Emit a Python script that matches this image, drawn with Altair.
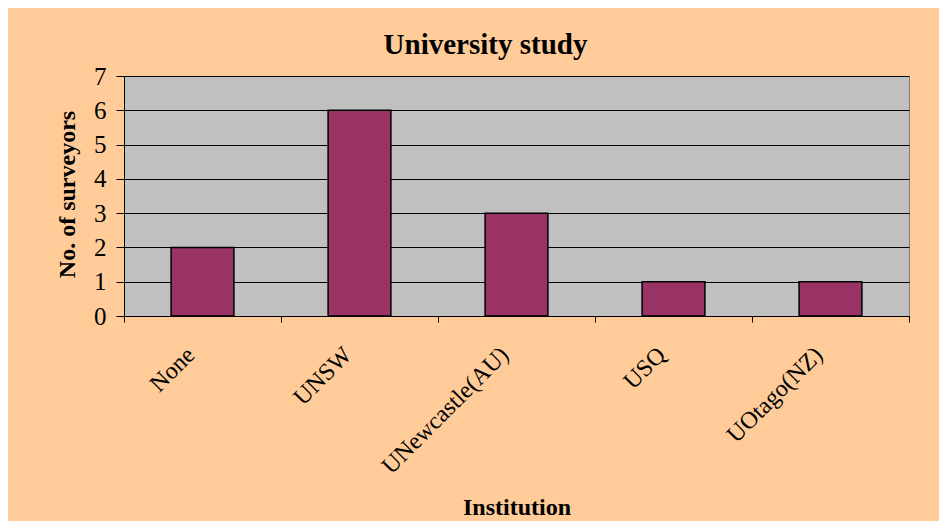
import altair as alt
import pandas as pd

institutions = ["None", "UNSW", "UNewcastle(AU)", "USQ", "UOtago(NZ)"]
surveyors = [2, 6, 3, 1, 1]
y_ticks = [0, 1, 2, 3, 4, 5, 6, 7]

df = pd.DataFrame({"Institution": institutions, "Surveyors": surveyors})

FONT = "Liberation Serif"

bars = alt.Chart(df).mark_bar(
    color="#993366", stroke="black", strokeWidth=1.5,
    width=alt.RelativeBandSize(0.4),
).encode(
    x=alt.X(
        "Institution:N",
        sort=institutions,
        scale=alt.Scale(paddingInner=0, paddingOuter=0),
        axis=alt.Axis(
            title="Institution",
            titleFont=FONT, titleFontSize=24, titleFontWeight="bold",
            titleColor="black", titleY=191, titleBaseline="middle",
            labelAngle=-45, labelAlign="right", labelBaseline="middle",
            labelPadding=29, labelOffset=-12, labelLimit=0,
            labelFont=FONT, labelFontSize=24, labelColor="black",
            tickBand="extent", tickColor="black", tickSize=6,
            domainColor="black", grid=False,
        ),
    ),
    y=alt.Y(
        "Surveyors:Q",
        scale=alt.Scale(domain=[0, 7], nice=False),
        axis=alt.Axis(
            title="No. of surveyors",
            values=y_ticks,
            titleFont=FONT, titleFontSize=24, titleFontWeight="bold",
            titleColor="black", titleAngle=-90, titleX=-57, titleY=118,
            titleAlign="center", titleBaseline="middle",
            labelFont=FONT, labelFontSize=25, labelColor="black",
            labelPadding=10, tickSize=8, tickColor="black",
            domainColor="black", grid=True, gridColor="black",
            gridWidth=1, gridOpacity=1,
        ),
    ),
)

chart = bars.properties(
    width=785,
    height=240,
    title=alt.TitleParams(
        "University study", font=FONT, fontSize=29, fontWeight="bold",
        color="black", anchor="middle", dx=-31, dy=40, offset=21,
        baseline="alphabetic",
    ),
    background="#FFCC99",
    padding={"left": 116, "top": 68, "right": 30, "bottom": 205},
    autosize=alt.AutoSizeParams(type="none"),
).configure_view(
    fill="#C0C0C0", stroke="#808080", strokeWidth=1
)

chart.save("out.html", embed_options={"renderer": "svg", "actions": False})
